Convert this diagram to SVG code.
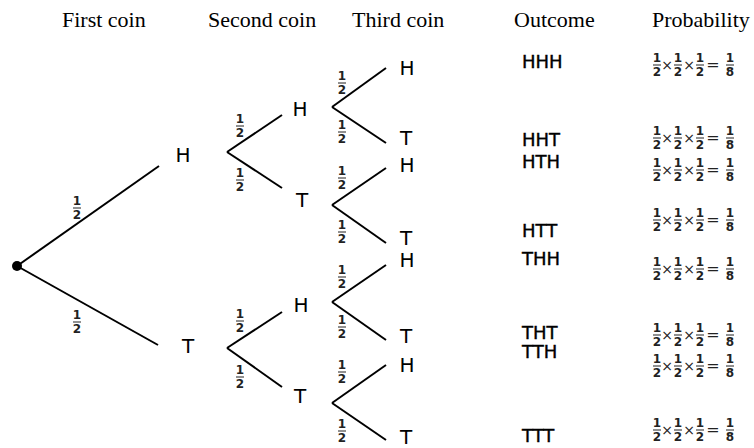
<svg xmlns="http://www.w3.org/2000/svg" width="754" height="448" viewBox="0 0 754 448">
<style>
.hdr{font-family:"Liberation Serif","Times New Roman",serif;font-size:22px;fill:#000}
.lbl{font-family:"DejaVu Sans",Verdana,sans-serif;font-size:20px;fill:#000;text-anchor:middle}
.out{font-family:"DejaVu Sans",Verdana,sans-serif;font-size:18px;fill:#000;stroke:#000;stroke-width:0.4}
.d{font-family:"DejaVu Sans",Verdana,sans-serif;font-size:12px;font-weight:bold;fill:#222;text-anchor:middle}
.op{font-family:"DejaVu Sans",Verdana,sans-serif;font-size:14px;fill:#222;text-anchor:middle}
.bar{stroke:#222;stroke-width:1}
.edge{stroke:#000;stroke-width:2;fill:none}
</style>
<rect width="754" height="448" fill="#fff"/>
<g id="headers">
<text class="hdr" x="62" y="27">First coin</text>
<text class="hdr" x="208" y="27">Second coin</text>
<text class="hdr" x="352" y="27">Third coin</text>
<text class="hdr" x="514" y="27">Outcome</text>
<text class="hdr" x="652" y="27">Probability</text>
</g>
<g id="connectors">
<line class="edge" x1="17" y1="266" x2="159" y2="166"/>
<line class="edge" x1="17" y1="266" x2="158" y2="345"/>
<line class="edge" x1="227" y1="152" x2="282" y2="115"/>
<line class="edge" x1="227" y1="152" x2="282" y2="188"/>
<line class="edge" x1="227" y1="348" x2="282" y2="312"/>
<line class="edge" x1="227" y1="348" x2="282" y2="387"/>
<line class="edge" x1="332" y1="107" x2="386" y2="68"/>
<line class="edge" x1="332" y1="107" x2="386" y2="143"/>
<line class="edge" x1="332" y1="205" x2="386" y2="168"/>
<line class="edge" x1="332" y1="205" x2="386" y2="243"/>
<line class="edge" x1="332" y1="302" x2="386" y2="265"/>
<line class="edge" x1="332" y1="302" x2="386" y2="340"/>
<line class="edge" x1="332" y1="403" x2="386" y2="365"/>
<line class="edge" x1="332" y1="403" x2="386" y2="440"/>
<g id="edge-labels">
<g transform="translate(77,208)"><text class="d" y="-3">1</text><line class="bar" x1="-4" x2="4"/><text class="d" y="11">2</text></g>
<g transform="translate(77,322)"><text class="d" y="-3">1</text><line class="bar" x1="-4" x2="4"/><text class="d" y="11">2</text></g>
<g transform="translate(240,126)"><text class="d" y="-3">1</text><line class="bar" x1="-4" x2="4"/><text class="d" y="11">2</text></g>
<g transform="translate(240,180)"><text class="d" y="-3">1</text><line class="bar" x1="-4" x2="4"/><text class="d" y="11">2</text></g>
<g transform="translate(240,321)"><text class="d" y="-3">1</text><line class="bar" x1="-4" x2="4"/><text class="d" y="11">2</text></g>
<g transform="translate(240,377)"><text class="d" y="-3">1</text><line class="bar" x1="-4" x2="4"/><text class="d" y="11">2</text></g>
<g transform="translate(342,83)"><text class="d" y="-3">1</text><line class="bar" x1="-4" x2="4"/><text class="d" y="11">2</text></g>
<g transform="translate(342,132)"><text class="d" y="-3">1</text><line class="bar" x1="-4" x2="4"/><text class="d" y="11">2</text></g>
<g transform="translate(342,178)"><text class="d" y="-3">1</text><line class="bar" x1="-4" x2="4"/><text class="d" y="11">2</text></g>
<g transform="translate(342,232)"><text class="d" y="-3">1</text><line class="bar" x1="-4" x2="4"/><text class="d" y="11">2</text></g>
<g transform="translate(342,277)"><text class="d" y="-3">1</text><line class="bar" x1="-4" x2="4"/><text class="d" y="11">2</text></g>
<g transform="translate(342,327)"><text class="d" y="-3">1</text><line class="bar" x1="-4" x2="4"/><text class="d" y="11">2</text></g>
<g transform="translate(342,372)"><text class="d" y="-3">1</text><line class="bar" x1="-4" x2="4"/><text class="d" y="11">2</text></g>
<g transform="translate(342,431)"><text class="d" y="-3">1</text><line class="bar" x1="-4" x2="4"/><text class="d" y="11">2</text></g>
</g>
</g>
<g id="root"><circle cx="17" cy="266" r="5" fill="#000"/></g>
<g id="n-H"><text class="lbl" x="183" y="162">H</text></g>
<g id="n-T"><text class="lbl" x="188" y="353">T</text></g>
<g id="n-HH"><text class="lbl" x="300" y="116">H</text></g>
<g id="n-HT"><text class="lbl" x="302" y="207">T</text></g>
<g id="n-TH"><text class="lbl" x="301" y="312">H</text></g>
<g id="n-TT"><text class="lbl" x="300" y="403">T</text></g>
<g id="n-HHH"><text class="lbl" x="407" y="75">H</text></g>
<g id="n-HHT"><text class="lbl" x="406" y="145">T</text></g>
<g id="n-HTH"><text class="lbl" x="407" y="172">H</text></g>
<g id="n-HTT"><text class="lbl" x="406" y="245">T</text></g>
<g id="n-THH"><text class="lbl" x="407" y="267">H</text></g>
<g id="n-THT"><text class="lbl" x="406" y="343">T</text></g>
<g id="n-TTH"><text class="lbl" x="407" y="372">H</text></g>
<g id="n-TTT"><text class="lbl" x="406" y="444">T</text></g>
<g id="outcomes">
<text class="out" x="522" y="68">HHH</text>
<text class="out" x="522" y="146">HHT</text>
<text class="out" x="522" y="168">HTH</text>
<text class="out" x="522" y="237">HTT</text>
<text class="out" x="522" y="265">THH</text>
<text class="out" x="522" y="339">THT</text>
<text class="out" x="522" y="358">TTH</text>
<text class="out" x="522" y="442">TTT</text>
</g>
<defs>
<g id="prob">
<text class="d" x="657" y="-3">1</text><line class="bar" x1="653" x2="661"/><text class="d" x="657" y="11">2</text>
<text class="op" x="667" y="5">×</text>
<text class="d" x="678" y="-3">1</text><line class="bar" x1="674" x2="682"/><text class="d" x="678" y="11">2</text>
<text class="op" x="689" y="5">×</text>
<text class="d" x="700" y="-3">1</text><line class="bar" x1="696" x2="704"/><text class="d" x="700" y="11">2</text>
<text class="op" x="713" y="5" style="font-size:16px">=</text>
<text class="d" x="730" y="-3">1</text><line class="bar" x1="726" x2="734"/><text class="d" x="730" y="11">8</text>
</g>
</defs>
<g id="probabilities">
<use href="#prob" y="65"/>
<use href="#prob" y="138"/>
<use href="#prob" y="170"/>
<use href="#prob" y="220"/>
<use href="#prob" y="269"/>
<use href="#prob" y="335"/>
<use href="#prob" y="366"/>
<use href="#prob" y="430"/>
</g>
</svg>
